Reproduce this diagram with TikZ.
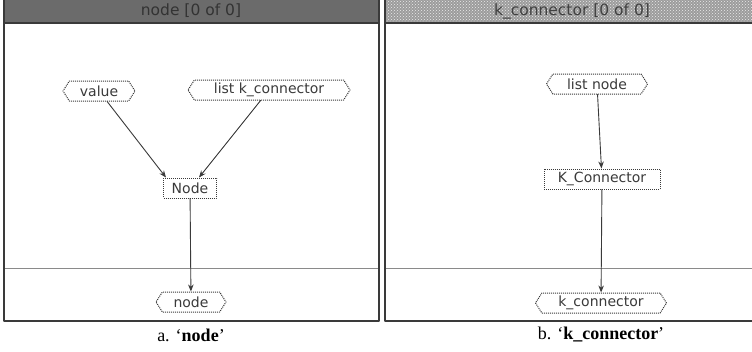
\documentclass[tikz,border=0pt]{standalone}
\usepackage{fontspec}
\setmainfont{Liberation Serif}
\setsansfont{DejaVu Sans}
\usetikzlibrary{arrows.meta,positioning,shapes.symbols,patterns}
\definecolor{kcInk}{HTML}{3A3A3A}
\definecolor{kcBar}{HTML}{6B6B6B}
\definecolor{kcBarOff}{HTML}{9C9C9C}
\definecolor{kcRule}{HTML}{8A8A8A}

\begin{document}
\begin{tikzpicture}[x=1pt,y=-1pt,>=Stealth,line cap=round,line join=round]
\useasboundingbox[fill=white] (0,0) rectangle (752,351);
\tikzset{panel/.style={draw=kcInk,line width=1.3pt},term/.style={signal,signal to=west and east,signal pointer angle=115,draw=kcInk,dash pattern=on 1pt off 1pt,line cap=butt,line width=1pt,font=\sffamily\fontsize{14}{15}\selectfont,text=kcInk,inner xsep=7pt,inner ysep=2pt,minimum height=20pt},ctor/.style={rectangle,draw=kcInk,dash pattern=on 1pt off 1pt,line cap=butt,line width=1pt,font=\sffamily\fontsize{14}{15}\selectfont,text=kcInk,inner xsep=5pt,inner ysep=2pt,minimum height=20pt},link/.style={draw=kcInk,line width=0.9pt,-{Stealth[length=7pt,width=5.5pt]}},caption/.style={font=\fontsize{18}{20}\selectfont}}
% left window
\path[fill=kcBar] (4,0) rectangle (379,23);
\node[font=\sffamily\fontsize{15.5}{16}\selectfont,text=black!80] (nodetitle) at (191,11) {node [0 of 0]};
\draw[kcRule,line width=1pt] (4,268) -- (379,268);
\draw[panel] (4,0) -- (4,321) -- (379,321) -- (379,0); \draw[panel] (4,23) -- (379,23);
\node[term,minimum width=72pt] (value) at (99,91) {value};
\node[term,minimum width=162pt] (listk) at (269,90) {list k\_connector};
\node[ctor,minimum width=53pt] (nodector) at (190,188) {Node};
\node[term,minimum width=70pt] (nodeout) at (191,302) {node};
\draw[link] (value) -- ([xshift=3pt]nodector.north west);
\draw[link] (listk) -- ([xshift=9pt]nodector.north);
\draw[link] (nodector) -- (nodeout);
% right window
\path[fill=kcBarOff] (385,0) rectangle (752,23);
\path[pattern=crosshatch dots,pattern color=white!85!gray] (385,0) rectangle (752,23);
\node[font=\sffamily\fontsize{15.5}{16}\selectfont,text=black!75] (kctitle) at (572,11) {k\_connector [0 of 0]};
\draw[kcRule,line width=1pt] (385,268) -- (752,268);
\draw[panel] (385,0) -- (385,321) -- (752,321); \draw[panel] (385,23) -- (752,23);
\node[term,minimum width=101pt] (listnode) at (597,84) {list node};
\node[ctor,minimum width=116pt] (kctor) at (602,179) {K\_Connector};
\node[term,minimum width=131pt] (kcout) at (601,303) {k\_connector};
\draw[link] (listnode) -- (kctor);
\draw[link] (kctor) -- (kcout);
% captions
\node[caption] (capa) at (191,335) {a. `\textbf{node}'};
\node[caption] (capb) at (601,335) {b. `\textbf{k\_connector}'};
\end{tikzpicture}
\end{document}
